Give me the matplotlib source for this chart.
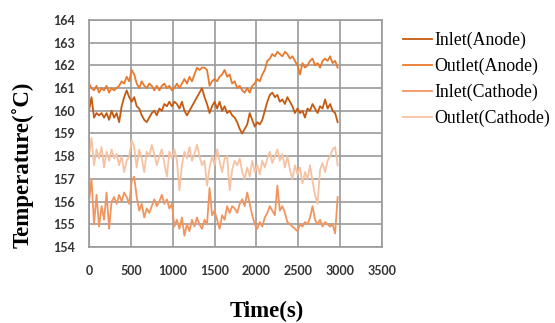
import matplotlib
matplotlib.use("Agg")
import matplotlib.pyplot as plt
import numpy as np

time_s = list(range(0, 3000, 30))

inlet_anode = [160.0,160.6,159.7,159.9,159.8,159.9,159.7,159.9,159.6,160.0,
159.7,159.9,159.5,160.2,160.6,160.9,160.6,160.4,160.6,160.2,
160.1,159.8,159.6,159.5,159.7,159.9,160.0,159.8,160.1,160.0,
160.3,160.2,160.4,160.2,160.4,160.3,160.1,160.4,160.0,159.8,
160.0,160.2,160.4,160.6,160.8,161.0,160.6,160.3,159.9,160.2,
160.4,160.1,160.4,160.0,160.2,159.9,160.0,159.8,159.7,159.5,
159.2,159.0,159.2,159.4,159.9,159.6,159.3,159.5,159.4,159.6,
160.0,160.4,160.7,160.8,160.6,160.7,160.4,160.5,160.3,160.6,
160.4,160.2,159.9,160.1,159.9,160.0,159.7,160.1,160.0,160.3,
160.1,159.9,160.2,160.1,160.5,160.1,160.3,160.0,159.9,159.5]

outlet_anode = [161.2,161.0,160.9,161.1,160.8,161.0,160.9,161.1,160.8,161.0,
160.9,161.0,161.1,161.3,161.2,161.5,161.3,161.8,161.6,161.2,
161.0,161.3,161.1,161.0,161.2,161.1,160.9,161.1,160.9,161.1,
161.2,161.0,161.1,160.9,161.0,161.2,161.0,161.2,161.4,161.2,
161.5,161.3,161.6,161.9,161.8,161.9,161.9,161.8,161.1,161.3,
161.4,161.3,161.5,161.6,161.8,161.5,161.6,161.2,161.3,161.0,
161.1,160.9,160.8,161.0,160.8,161.1,161.2,161.4,161.3,161.6,
161.8,162.2,162.3,162.5,162.4,162.6,162.5,162.4,162.6,162.5,
162.3,162.4,162.2,162.0,161.6,162.1,161.9,162.0,162.2,162.3,
162.0,162.1,161.9,162.2,162.3,162.2,162.4,162.1,162.2,161.9]

inlet_cathode = [156.0,157.0,155.0,156.3,154.9,155.8,155.2,156.4,154.8,156.0,
156.2,155.9,156.3,156.0,156.4,156.2,155.9,156.9,157.1,156.2,
155.6,155.9,155.3,155.7,155.5,155.8,156.1,155.8,156.0,156.3,
155.9,156.1,155.7,155.9,154.9,155.2,154.8,155.3,154.5,155.0,
154.7,155.2,154.9,155.3,155.0,154.8,155.2,155.0,156.6,155.4,
155.6,155.2,154.8,155.4,155.2,155.8,155.5,155.8,155.7,155.5,
155.9,156.1,155.8,156.4,155.9,155.4,155.0,154.8,155.1,154.9,
155.3,155.5,155.8,155.6,155.4,156.7,155.6,155.8,155.5,155.1,
155.0,154.9,154.8,154.7,155.0,154.9,155.1,155.0,155.3,155.8,
155.2,155.0,155.2,154.9,155.1,155.0,154.9,155.0,154.6,156.2]

outlet_cathode = [158.0,158.8,157.6,158.3,157.9,158.4,157.5,158.2,157.8,158.3,
157.9,158.1,157.6,158.0,157.3,157.8,158.0,158.7,158.4,157.5,
158.3,157.9,157.3,158.2,158.0,158.5,158.1,157.6,158.0,158.3,
157.7,157.1,158.2,157.9,158.3,157.8,156.5,157.6,158.2,157.9,
158.4,157.8,158.1,158.5,158.0,157.6,157.8,156.7,157.5,158.0,
157.6,158.3,157.8,157.3,157.9,158.0,156.5,157.4,157.8,157.6,
157.9,157.3,157.0,157.5,157.1,157.8,157.3,157.6,157.2,157.8,
157.5,157.9,158.2,157.7,158.0,158.3,157.8,158.1,157.5,158.0,
157.4,157.0,157.6,157.2,157.5,156.8,157.3,157.0,157.6,156.9,
156.3,155.9,157.4,157.7,157.3,157.8,158.0,158.3,158.4,157.6]

series = [
    ("Inlet(Anode)", inlet_anode, "#C55A11"),
    ("Outlet(Anode)", outlet_anode, "#E87A2E"),
    ("Inlet(Cathode)", inlet_cathode, "#F0955F"),
    ("Outlet(Cathode)", outlet_cathode, "#F6C2A2"),
]

fig = plt.figure(figsize=(5.55, 3.23), dpi=100)
ax = fig.add_axes([89/555, 1-247/323, (382-89)/555, (247-20)/323])

for name, vals, col in series:
    ax.plot(time_s, vals, color=col, lw=1.3, label=name)

ax.set_xlim(0, 3500)
ax.set_ylim(154, 164)
ax.set_xticks(range(0, 3501, 500))
ax.set_yticks(range(154, 165, 1))
ax.grid(True, color="#9A9A9A", lw=1.2)
ax.set_axisbelow(True)
for s in ax.spines.values():
    s.set_color("#9A9A9A")
    s.set_linewidth(1.2)
ax.tick_params(length=0, labelsize=9, colors="#333333", pad=10)
ax.tick_params(axis="x", pad=13)
for lab in ax.get_xticklabels() + ax.get_yticklabels():
    lab.set_fontweight("bold")
    lab.set_family("Lato")

fig.text(23/555, 1-165/323, "Temperature(\u02daC)", rotation=90, ha="center", va="center",
         family="Liberation Serif", fontweight="bold", fontsize=16.5)
fig.text(267/555, 1-311/323, "Time(s)", ha="center", va="center",
         family="Liberation Serif", fontweight="bold", fontsize=16.5)

leg = fig.legend(loc="upper left", bbox_to_anchor=(403/555, 1-32/323), frameon=False,
                 prop={"family": "Liberation Serif", "size": 12.8},
                 handlelength=1.65, handletextpad=0.12, labelspacing=0.48,
                 borderaxespad=0, borderpad=0)

fig.savefig("out.png", dpi=100)
